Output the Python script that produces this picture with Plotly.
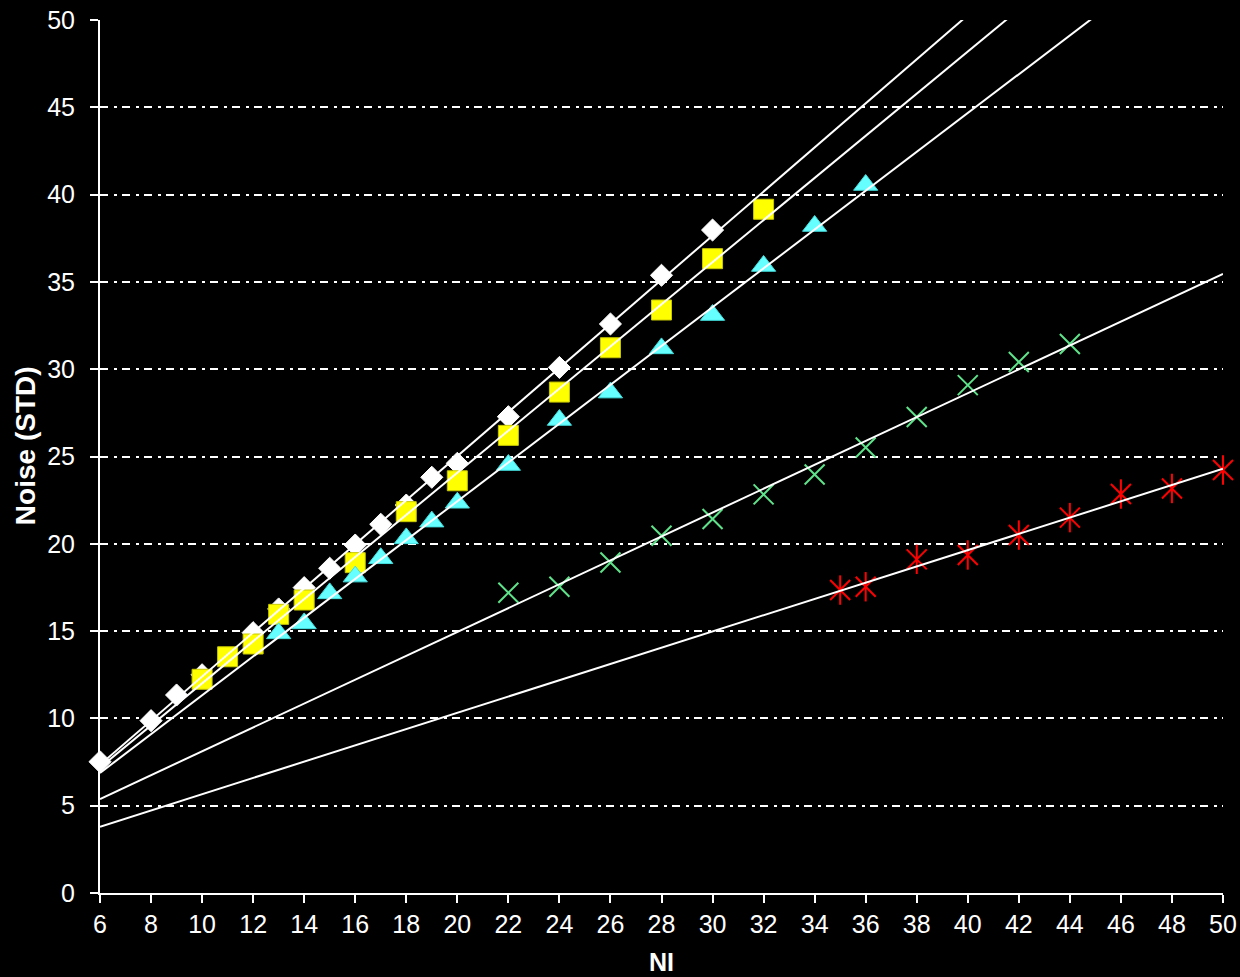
import numpy as np
import plotly.graph_objects as go

# ---- data ----
x_diamond = [6, 8, 9, 10, 12, 13, 14, 15, 16, 17, 18, 19, 20, 22, 24, 26, 28, 30]
y_diamond = [7.52, 9.87, 11.34, 12.5, 14.91, 16.27, 17.49, 18.6, 19.93, 21.12, 22.22, 23.81, 24.61,
             27.28, 30.1, 32.59, 35.38, 37.97]

x_square = [10, 11, 12, 13, 14, 16, 18, 20, 22, 24, 26, 28, 30, 32]
y_square = [12.24, 13.53, 14.26, 15.96, 16.78, 18.92, 21.84, 23.61, 26.21, 28.69, 31.23, 33.39, 36.33, 39.16]

x_triangle = [13, 14, 15, 16, 17, 18, 19, 20, 22, 24, 26, 28, 30, 32, 34, 36]
y_triangle = [14.87, 15.44, 17.16, 18.12, 19.17, 20.31, 21.27, 22.35, 24.51, 27.09, 28.66, 31.19,
              33.1, 35.91, 38.2, 40.55]

x_cross = [22, 24, 26, 28, 30, 32, 34, 36, 38, 40, 42, 44]
y_cross = [17.2, 17.54, 18.93, 20.46, 21.42, 22.83, 23.97, 25.52, 27.26, 29.09, 30.41, 31.44]

x_star = [35, 36, 38, 40, 42, 44, 46, 48, 50]
y_star = [17.35, 17.54, 19.11, 19.36, 20.5, 21.5, 22.85, 23.17, 24.23]

x_ticks = list(range(6, 51, 2))
y_ticks = list(range(0, 51, 5))
x_range = [6, 50]
y_range = [0, 50]
x_title = "NI"
y_title = "Noise (STD)"

FONT = "Liberation Sans, Arial, sans-serif"

fig = go.Figure()

fig.add_trace(go.Scatter(x=x_diamond, y=y_diamond, mode="markers", cliponaxis=False,
                         marker=dict(symbol="diamond", size=17, color="white",
                                     line=dict(color="white", width=1))))
fig.add_trace(go.Scatter(x=x_square, y=y_square, mode="markers", cliponaxis=False,
                         marker=dict(symbol="square", size=20, color="#ffff00",
                                     line=dict(color="#c8c800", width=1))))
fig.add_trace(go.Scatter(x=x_triangle, y=y_triangle, mode="markers", cliponaxis=False,
                         marker=dict(symbol="triangle-up", size=21, color="#66ffff",
                                     line=dict(color="#44dddd", width=1))))
fig.add_trace(go.Scatter(x=x_cross, y=y_cross, mode="markers", cliponaxis=False,
                         marker=dict(symbol="x-thin-open", size=20, color="#5fe38a",
                                     line=dict(color="#5fe38a", width=2))))
fig.add_trace(go.Scatter(x=x_star, y=y_star, mode="markers", cliponaxis=False,
                         marker=dict(symbol="x-thin-open", size=20, color="#ff0000",
                                     line=dict(color="#ff0000", width=2))))
fig.add_trace(go.Scatter(x=x_star, y=y_star, mode="markers", cliponaxis=False,
                         marker=dict(symbol="line-ns-open", size=21, color="#ff0000",
                                     line=dict(color="#ff0000", width=2))))

# linear trend lines (least-squares fits of each series), drawn across the axis
for xs, ys in [(x_diamond, y_diamond), (x_square, y_square), (x_triangle, y_triangle),
               (x_cross, y_cross), (x_star, y_star)]:
    slope, intercept = np.polyfit(xs, ys, 1)
    xl = np.array(x_range, dtype=float)
    fig.add_trace(go.Scatter(x=xl, y=slope * xl + intercept, mode="lines",
                             line=dict(color="white", width=2)))

fig.update_layout(
    width=1240, height=977,
    paper_bgcolor="black", plot_bgcolor="black",
    showlegend=False,
    margin=dict(l=100, r=17, t=20, b=84, autoexpand=False),
    font=dict(family=FONT, color="white", size=25),
    annotations=[
        dict(text="<b>%s</b>" % x_title, xref="paper", yref="paper",
             x=0.5, y=-0.079, xanchor="center", yanchor="middle", showarrow=False,
             font=dict(size=25, color="white", family=FONT)),
        dict(text="<b>%s</b>" % y_title, xref="paper", yref="paper",
             x=-0.0668, y=0.513, xanchor="center", yanchor="middle", showarrow=False,
             textangle=-90, font=dict(size=28, color="white", family=FONT)),
    ],
)
fig.update_xaxes(
    range=x_range, tickvals=x_ticks, showgrid=False, zeroline=False, automargin=False,
    showline=True, linecolor="white", linewidth=2,
    ticks="outside", ticklen=8, tickwidth=2, tickcolor="white",
    tickfont=dict(size=25, color="white", family=FONT),
)
fig.update_yaxes(
    range=y_range, tickvals=y_ticks, zeroline=False, automargin=False,
    showgrid=True, gridcolor="white", gridwidth=2, griddash="8px,6px,3px,5px",
    showline=True, linecolor="white", linewidth=2,
    ticks="outside", ticklen=8, tickwidth=2, tickcolor="white",
    ticklabelstandoff=10,
    tickfont=dict(size=25, color="white", family=FONT),
)

fig.write_html("out.html", config={"displayModeBar": False},
               post_script="document.body.style.margin='0';document.body.style.background='black';")
